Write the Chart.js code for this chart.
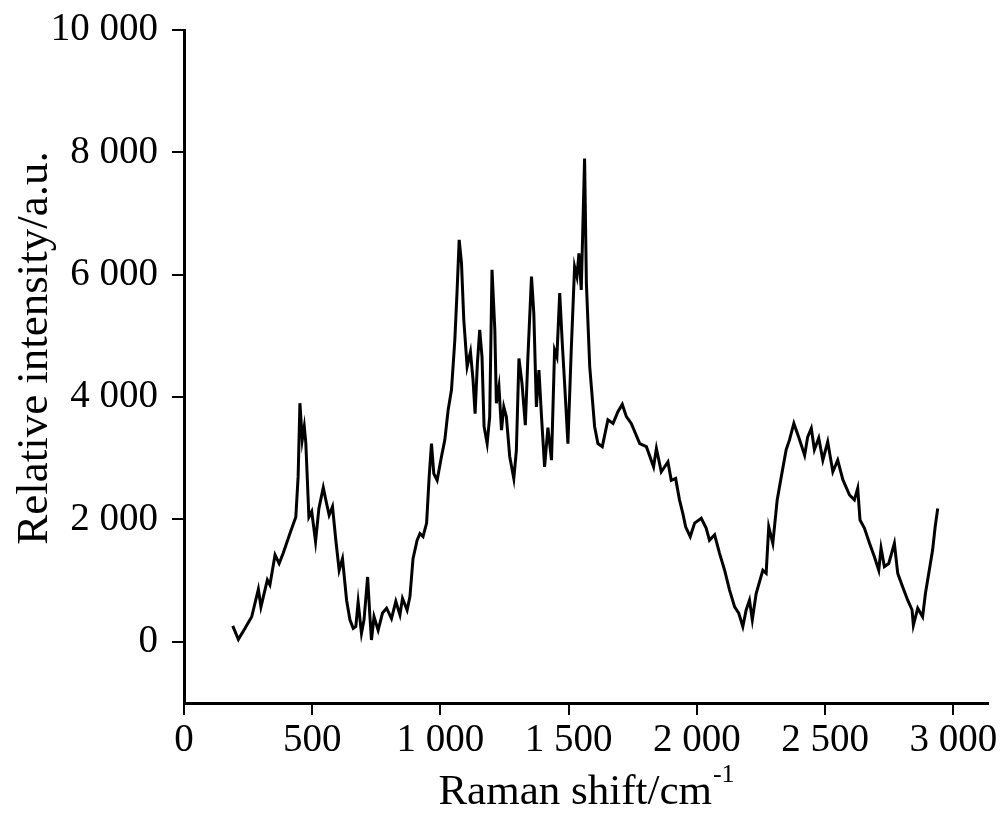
<!DOCTYPE html>
<html>
<head>
<meta charset="utf-8">
<script src="https://cdn.jsdelivr.net/npm/chart.js@4.4.1/dist/chart.umd.min.js"></script>
<style>
  body { margin: 0; background: #fff; }
  #wrap { width: 1000px; height: 816px; position: relative; }
</style>
</head>
<body>
<div id="wrap"><canvas id="raman"></canvas></div>
<script>
// Raman shift (cm-1) and relative intensity
var shift = [190, 212, 238, 264, 290, 300, 325, 335, 355, 371, 387, 413, 436, 445, 452, 461, 469, 475, 487, 498,
  513, 526, 543, 556, 566, 579, 592, 605, 618, 634, 647, 660, 670, 679, 692, 702, 716, 725, 731, 741,
  757, 774, 790, 809, 826, 842, 852, 870, 881, 893, 909, 920, 932, 946, 956, 965, 974, 987, 1004, 1017,
  1030, 1043, 1056, 1065, 1073, 1082, 1091, 1104, 1117, 1127, 1135, 1144, 1153, 1162, 1170, 1182, 1192, 1201, 1212, 1218,
  1228, 1238, 1247, 1257, 1270, 1286, 1296, 1306, 1318, 1331, 1341, 1355, 1364, 1374, 1384, 1394, 1406, 1419, 1433, 1445,
  1454, 1465, 1475, 1484, 1497, 1510, 1523, 1532, 1540, 1549, 1562, 1569, 1582, 1601, 1614, 1631, 1653, 1673, 1692, 1709,
  1725, 1744, 1777, 1803, 1831, 1842, 1861, 1887, 1900, 1917, 1932, 1945, 1956, 1974, 1991, 2017, 2036, 2049, 2069, 2088,
  2108, 2127, 2147, 2163, 2179, 2192, 2205, 2216, 2231, 2257, 2270, 2280, 2296, 2313, 2329, 2348, 2361, 2378, 2398, 2420,
  2432, 2446, 2458, 2475, 2491, 2510, 2530, 2549, 2569, 2595, 2614, 2627, 2636, 2653, 2673, 2692, 2709, 2718, 2731, 2748,
  2770, 2783, 2802, 2822, 2839, 2844, 2861, 2880, 2891, 2906, 2919, 2929, 2939];

var intensity = [260, 40, 220, 410, 860, 570, 1010, 930, 1420, 1280, 1450, 1770, 2040, 2700, 3900, 3300, 3520, 3250, 2040, 2130,
  1640, 2180, 2520, 2260, 2070, 2210, 1660, 1170, 1360, 680, 360, 220, 250, 650, 140, 360, 1060, 410, 30, 410,
  190, 470, 550, 380, 660, 440, 710, 520, 740, 1360, 1660, 1770, 1720, 1940, 2700, 3240, 2750, 2640, 3030, 3300,
  3790, 4120, 4930, 5750, 6570, 6190, 5260, 4500, 4740, 4280, 3730, 4550, 5100, 4660, 3520, 3240, 3680, 6080, 5100, 3900,
  4170, 3460, 3840, 3680, 3030, 2670, 3130, 4630, 4220, 3540, 4660, 5970, 5370, 3840, 4440, 3680, 2860, 3500, 2970, 4770,
  4660, 5700, 4880, 4230, 3240, 4770, 6130, 5970, 6350, 5750, 7900, 5860, 4500, 3520, 3240, 3190, 3630, 3570, 3760, 3880,
  3680, 3570, 3240, 3190, 2860, 3160, 2780, 2940, 2640, 2670, 2320, 2100, 1880, 1720, 1940, 2020, 1860, 1660, 1750, 1450,
  1170, 850, 570, 470, 250, 520, 680, 360, 790, 1170, 1120, 1880, 1610, 2320, 2700, 3140, 3300, 3570, 3330, 3050,
  3350, 3490, 3140, 3330, 2970, 3270, 2780, 2970, 2650, 2400, 2320, 2510, 1990, 1860, 1610, 1390, 1170, 1530, 1230, 1280,
  1610, 1120, 900, 680, 520, 270, 550, 410, 790, 1170, 1500, 1880, 2180];

var xTicks = [0, 500, 1000, 1500, 2000, 2500, 3000];
var yTicks = [0, 2000, 4000, 6000, 8000, 10000];

var xTitle = 'Raman shift/cm';
var xTitleSup = '-1';
var yTitle = 'Relative intensity/a.u.';

var serif = '"Liberation Serif", "Times New Roman", serif';

function spaced(v) {
  return String(v).replace(/\B(?=(\d{3})+(?!\d))/g, ' ');
}

var points = shift.map(function (x, i) { return { x: x, y: intensity[i] }; });

// axis titles drawn by hand so the cm-1 can carry a real superscript
var axisTitles = {
  id: 'axisTitles',
  afterDraw: function (chart) {
    var ctx = chart.ctx;
    var area = chart.chartArea;
    ctx.save();
    ctx.fillStyle = '#000';

    ctx.font = '43px ' + serif;
    ctx.textBaseline = 'alphabetic';
    ctx.textAlign = 'left';
    var w1 = ctx.measureText(xTitle).width;
    ctx.font = '26px ' + serif;
    var w2 = ctx.measureText(xTitleSup).width;
    var x0 = (area.left + area.right) / 2 - (w1 + w2) / 2;
    ctx.font = '43px ' + serif;
    ctx.fillText(xTitle, x0, 804);
    ctx.font = '26px ' + serif;
    ctx.fillText(xTitleSup, x0 + w1 + 1, 782);

    ctx.translate(35, 348);
    ctx.rotate(-Math.PI / 2);
    ctx.font = '45px ' + serif;
    ctx.textAlign = 'center';
    ctx.textBaseline = 'middle';
    ctx.fillText(yTitle, 0, 0);
    ctx.restore();
  }
};

var ctx = document.getElementById('raman');

var chartOptions = {
  responsive: true,
  maintainAspectRatio: false,
  animation: false,
  layout: { padding: { left: 0, top: 30, right: 12, bottom: 0 } },
  plugins: { legend: { display: false }, tooltip: { enabled: false } },
  scales: {
    x: {
      type: 'linear',
      min: 0,
      max: 3135,
      afterFit: function (scale) { scale.height = 113; },
      afterBuildTicks: function (scale) {
        scale.ticks = xTicks.map(function (v) { return { value: v }; });
      },
      grid: { drawOnChartArea: false, drawTicks: true, tickLength: 12, color: '#000', lineWidth: 2 },
      border: { display: true, color: '#000', width: 3 },
      ticks: {
        padding: 2,
        color: '#000',
        font: { family: serif, size: 39 },
        maxRotation: 0,
        callback: function (v) { return spaced(v); }
      }
    },
    y: {
      type: 'linear',
      min: -1000,
      max: 10000,
      afterFit: function (scale) {
        scale.width = 184;
        // labels may overhang the plot; keep the plot edges where the figure has them
        scale.paddingTop = 0;
        scale.paddingBottom = 0;
      },
      afterBuildTicks: function (scale) {
        scale.ticks = yTicks.map(function (v) { return { value: v }; });
      },
      grid: { drawOnChartArea: false, drawTicks: true, tickLength: 12, color: '#000', lineWidth: 2 },
      border: { display: true, color: '#000', width: 3 },
      ticks: {
        padding: 14,
        color: '#000',
        font: { family: serif, size: 39 },
        callback: function (v) { return spaced(v); }
      }
    }
  }
};

var chartData = {
  datasets: [
    {
      label: 'Raman spectrum',
      data: points,
      borderColor: '#000',
      borderWidth: 3,
      pointRadius: 0,
      tension: 0,
      fill: false
    }
  ]
};

var config = {
  type: 'line',
  options: chartOptions,
  data: chartData,
  plugins: [axisTitles]
};

var ramanChart = new Chart(ctx, config);
</script>
</body>
</html>
